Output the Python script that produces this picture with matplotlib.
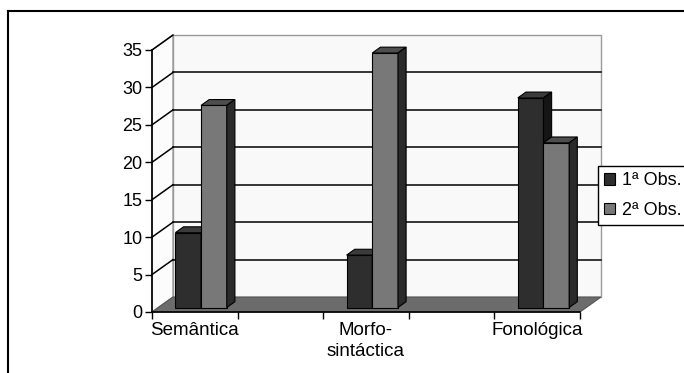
import matplotlib.pyplot as plt
import numpy as np
from matplotlib.patches import Polygon, Patch
from matplotlib.lines import Line2D

plt.rcParams['font.family'] = ['Liberation Sans', 'DejaVu Sans']

categorias = ['Semântica', 'Morfo-\nsintáctica', 'Fonológica']
obs1 = [10, 7, 28]
obs2 = [27, 34, 22]
series = ['1ª Obs.', '2ª Obs.']
yticks = [0, 5, 10, 15, 20, 25, 30, 35]

# front face / top / side colours for each series
cores = [('#2e2e2e', '#3b3b3b', '#151515'),
         ('#787878', '#4e4e4e', '#2b2b2b')]

fig = plt.figure(figsize=(6.84, 3.73), dpi=100)
ax = fig.add_axes([152 / 684, 61 / 373, 428 / 684, 262 / 373])
ax.set_xlim(-0.5, 4.5)
ax.set_ylim(0, 35)
ax.patch.set_visible(False)

# depth of the box (walls) and of the bars, in data units
DX, DY = 0.245, 2.0
x0, x1 = -0.5, 4.5

def poly(pts, fc, ec='black', lw=0.8, z=1):
    ax.add_patch(Polygon(pts, closed=True, facecolor=fc, edgecolor=ec,
                         linewidth=lw, clip_on=False, zorder=z))

# back wall and left wall
poly([(x0 + DX, DY), (x1 + DX, DY), (x1 + DX, 35 + DY), (x0 + DX, 35 + DY)],
     '#f9f9f9', ec='#9a9a9a', lw=1.0, z=0)
poly([(x0, 0), (x0, 35), (x0 + DX, 35 + DY), (x0 + DX, DY)],
     '#fcfcfc', ec='#9a9a9a', lw=1.0, z=0)

# gridlines on back wall and left wall
for v in yticks[1:-1]:
    ax.plot([x0 + DX, x1 + DX], [v + DY, v + DY], color='black', lw=1.1,
            clip_on=False, zorder=0.5)
for v in yticks[1:]:
    ax.plot([x0, x0 + DX], [v, v + DY], color='black', lw=1.1,
            clip_on=False, zorder=0.5)

# floor
poly([(x0, 0), (x1, 0), (x1 + DX, DY), (x0 + DX, DY)], '#6c6c6c',
     ec='#555555', lw=0.8, z=0.8)

# bars
pos = np.arange(len(categorias)) * 2
w = 0.3
sx, sy = 0.3 * DX, 0.3 * DY
bdx, bdy = 0.095, 0.78
for i, vals in enumerate([obs1, obs2]):
    front, top, side = cores[i]
    for c, v in zip(pos, vals):
        a = c - w + i * w + sx
        b = a + w
        base, h = sy, v + sy
        poly([(a, base), (b, base), (b, h), (a, h)], front, z=2 + i)
        poly([(a, h), (b, h), (b + bdx, h + bdy), (a + bdx, h + bdy)], top, z=2 + i)
        poly([(b, base), (b, h), (b + bdx, h + bdy), (b + bdx, base + bdy)], side, z=2 + i)

# axes
for s in ['top', 'right']:
    ax.spines[s].set_visible(False)
for s in ['left', 'bottom']:
    ax.spines[s].set_color('black')
    ax.spines[s].set_linewidth(1.2)
    ax.spines[s].set_zorder(5)
ax.set_yticks(yticks)
ax.tick_params(axis='y', length=5, width=1, labelsize=13, pad=2)
ax.set_xticks(np.arange(-0.5, 5.0, 1.0))
ax.set_xticklabels([])
ax.tick_params(axis='x', which='major', length=5, width=1)
ax.set_xticks(pos, minor=True)
ax.set_xticklabels(categorias, minor=True, fontsize=13.5, linespacing=1.3)
ax.tick_params(axis='x', which='minor', length=0, pad=7)

# legend
handles = [Patch(facecolor=cores[k][0], edgecolor='black', linewidth=0.8)
           for k in range(2)]
fig.legend(handles, series, loc='upper left',
           bbox_to_anchor=(598 / 684, 1 - 166 / 373), fontsize=13,
           frameon=True, fancybox=False, edgecolor='black', framealpha=1,
           handlelength=0.6, handleheight=0.6, handletextpad=0.4,
           borderpad=0.35, labelspacing=0.7, borderaxespad=0)

# outer frame
fig.add_artist(Line2D([8 / 684, 1.0], [1 - 11 / 373, 1 - 11 / 373],
                      color='black', lw=1.5, transform=fig.transFigure))
fig.add_artist(Line2D([8 / 684, 8 / 684], [0, 1 - 11 / 373],
                      color='black', lw=1.5, transform=fig.transFigure))

fig.savefig('out.png', dpi=100)
